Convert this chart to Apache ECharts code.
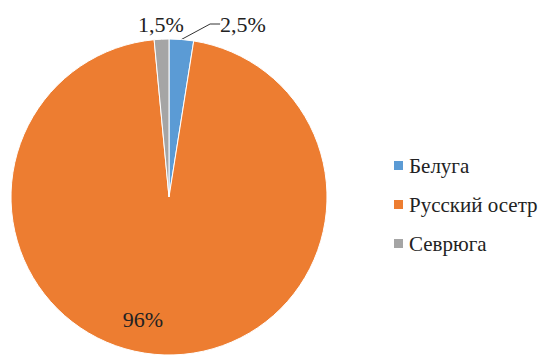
<!DOCTYPE html>
<html>
<head>
<meta charset="utf-8">
<script src="https://cdn.jsdelivr.net/npm/echarts@6/dist/echarts.min.js"></script>
<style>html,body{margin:0;padding:0;background:#fff;}#c{width:554px;height:359px;}</style>
</head>
<body>
<div id="c"></div>
<script>
var categories = ['Белуга', 'Русский осетр', 'Севрюга'];
var values = [2.5, 96, 1.5];
var colors = ['#5B9BD5', '#ED7D31', '#A5A5A5'];

var labelSpots = [
  {x: 243, y: 24},
  {x: 143, y: 319},
  {x: 161, y: 24}
];

var SERIF = 'Liberation Serif';

var chart = echarts.init(document.getElementById('c'), null, {renderer: 'svg'});
chart.setOption({
  animation: false,
  color: colors,
  textStyle: {fontFamily: SERIF},
  legend: {
    orient: 'vertical',
    left: 387,
    top: 150,
    icon: 'rect',
    itemWidth: 11,
    itemHeight: 11,
    itemGap: 18,
    textStyle: {fontFamily: SERIF, fontSize: 21, color: '#222'},
    data: categories
  },
  series: [{
    type: 'pie',
    center: [169, 197],
    radius: 158,
    startAngle: 90,
    clockwise: true,
    itemStyle: {borderColor: '#fff', borderWidth: 1},
    label: {
      show: true,
      position: 'outside',
      fontFamily: SERIF,
      fontSize: 22,
      color: '#222',
      formatter: function (p) { return String(p.value).replace('.', ',') + '%'; }
    },
    labelLine: {show: false, lineStyle: {color: '#333', width: 1}},
    labelLayout: function (p) {
      var s = labelSpots[p.dataIndex];
      return {x: s.x, y: s.y, align: 'center', verticalAlign: 'middle'};
    },
    data: categories.map(function (n, i) {
      var d = {name: n, value: values[i]};
      if (i === 0) d.labelLine = {show: true, length: 6, length2: 10};
      if (i === 1) d.label = {position: 'inside'};
      return d;
    })
  }]
});
</script>
</body>
</html>
